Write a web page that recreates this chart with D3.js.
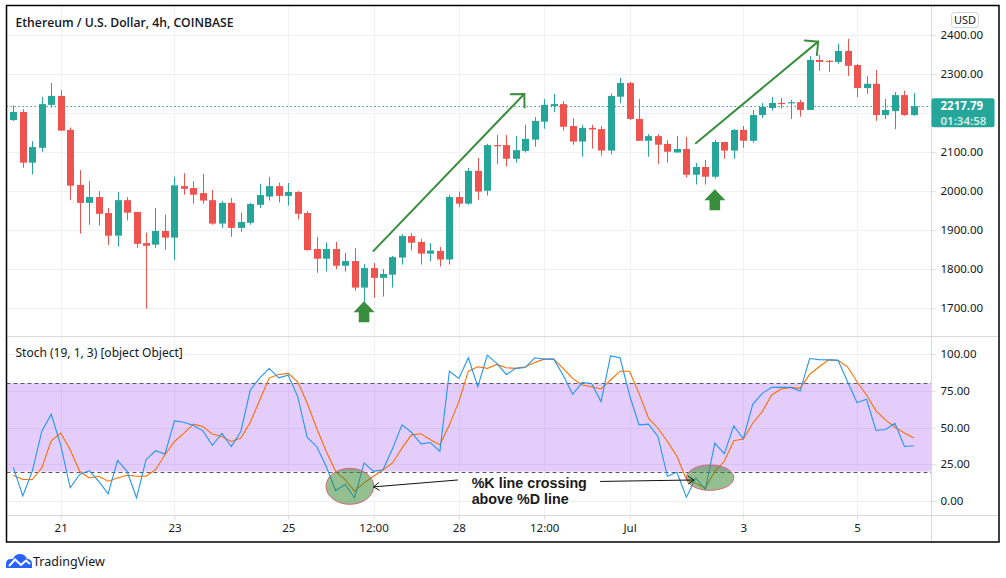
<!DOCTYPE html>
<html>
<head>
<meta charset="utf-8">
<script src="https://cdn.jsdelivr.net/npm/d3@7/dist/d3.min.js"></script>
<style>
    body { margin: 0; background: #ffffff; }
    svg { display: block; font-family: "Noto Sans", sans-serif; }
</style>
</head>
<body>
<script>
//Candles, one per 4h bar, first bar Jun 20 04:00
const opens  = [2182,2203,2073,2111,2221,2244,2157,2016,1970,1985,1944,1886,1977,1947,1867,1863,1898,1881,2013,2008,
                1995,1977,1917,1970,1906,1919,1965,1986,2013,1988,1998,1944,1852,1827,1852,1809,1821,1753,1803,1778,
                1786,1830,1885,1870,1840,1847,1825,1985,1968,2052,2001,2118,2118,2083,2103,2132,2178,2218,2223,2167,
                2127,2162,2159,2104,2242,2277,2185,2129,2141,2121,2099,2108,2042,2062,2037,2126,2104,2157,2129,2195,
                2213,2226,2225,2228,2208,2336,2334,2331,2359,2323,2264,2275,2195,2205,2246,2195];
const highs  = [2220,2210,2128,2241,2277,2259,2163,2054,2026,2000,1957,1998,1985,1947,1894,1957,1940,2037,2046,2026,
                2044,2003,1975,1983,1945,1970,2019,2036,2022,2021,2000,1949,1883,1869,1870,1842,1854,1813,1816,1801,
                1834,1890,1893,1878,1867,1857,1990,1999,2059,2085,2121,2144,2144,2141,2170,2190,2236,2249,2231,2187,
                2170,2170,2167,2250,2290,2280,2236,2146,2146,2131,2141,2139,2072,2080,2131,2126,2159,2167,2208,2226,
                2241,2239,2234,2234,2346,2349,2336,2378,2390,2326,2295,2310,2236,2254,2257,2251];
const lows   = [2180,2060,2043,2101,2214,2155,1978,1891,1914,1912,1862,1858,1925,1855,1699,1855,1850,1824,1991,1968,
                1968,1914,1906,1883,1896,1914,1957,1976,1971,1963,1928,1848,1791,1794,1800,1794,1745,1717,1727,1730,
                1753,1812,1848,1812,1821,1807,1812,1959,1965,1978,1989,2070,2063,2073,2099,2114,2160,2203,2155,2119,
                2088,2109,2091,2094,2225,2182,2129,2088,2070,2073,2099,2035,2017,2017,2032,2083,2083,2111,2124,2187,
                2206,2211,2185,2191,2208,2308,2305,2326,2295,2241,2249,2180,2185,2159,2193,2193];
const closes = [2203,2073,2113,2223,2244,2155,2014,1970,1985,1942,1886,1977,1945,1865,1860,1898,1881,2015,2006,1991,
                1976,1917,1970,1906,1921,1967,1990,2013,1988,1998,1942,1849,1827,1852,1809,1821,1753,1803,1778,1788,
                1831,1885,1868,1840,1848,1825,1985,1968,2052,1999,2118,2116,2083,2105,2134,2180,2221,2223,2165,2127,
                2162,2158,2104,2244,2277,2185,2129,2141,2119,2101,2108,2042,2062,2037,2126,2104,2157,2129,2195,2216,
                2226,2223,2228,2208,2336,2331,2331,2359,2321,2264,2275,2195,2208,2246,2195,2217.79];

//Stochastic (19, 1, 3)
const stochK = [22.9,3.5,20.2,47.3,59,38,9,18,20.7,13.5,4.9,27.7,20.2,2.2,28.1,34.2,32,54.5,53.6,51.4,
                47.7,37.8,45.9,37.1,47.3,75.5,83.8,90.2,83.8,85.6,71,43.2,37.1,23.6,7.1,11.2,2.2,25.9,20.2,21.3,
                35.6,51.8,46.8,38.9,39.8,33.8,88.3,83.4,97.4,77.7,99.2,93.6,86.1,90.2,90.8,97.4,96.5,96.5,85.6,72.6,
                80.5,80,67.6,98.7,97.4,72.1,51.8,52.3,43.9,16.8,19.5,2.6,15.7,7.8,39.4,32.2,51.1,42.3,65.8,73.2,
                77.3,77.3,77.3,74.8,96.9,96.2,96,95.8,81.1,66.9,69.2,48,48.6,52.9,37.1,37.6];
const stochD = [17.5,14.6,14.6,22.5,41,46.2,34.9,20.2,15.7,16.8,13.5,15.7,17.5,16.8,16.8,21.3,31.5,40.5,46.2,52.3,
                50.7,45.5,43.9,40.5,42.8,53.6,68.7,83.8,86.1,86.8,81.1,66.5,49.5,33.8,20.2,14.6,6.7,12.3,16.8,21.3,
                25.9,36,45,45.7,41.7,38.3,51.8,67.6,88.3,91.3,90.2,92.9,90.6,90.2,91.3,94.2,96.5,96.5,90.2,83.4,
                78.9,77.7,76.2,82.3,88.3,88.3,73.2,56.3,49.5,40.5,30.4,14.6,11.9,8.9,20.2,27,41,42.1,52.9,60.8,
                72.1,76.2,77.3,76.6,86.1,91.3,96,95.8,91.3,81.1,72.1,61.3,55.2,50.2,46.2,42.8];

//Axis ticks
const priceTicks = [1700, 1800, 1900, 2000, 2100, 2200, 2300, 2400];
const stochTicks = [0, 25, 50, 75, 100];
const timeTickBars = [5, 17, 29, 38, 47, 56, 65, 77, 89];
const timeTickLabels = ['21', '23', '25', '12:00', '28', '12:00', 'Jul', '3', '5'];

//Annotations (bar index, value)
const trendArrows = [[38, 1847, 53.9, 2249], [72, 2123, 84.9, 2383]];
const upArrows = [[37, 1718], [74, 2005]];
const ellipses = [[35.5, 10, 23.8, 18], [73.5, 15.9, 23.7, 12.7]];
const pointers = [[46.9, 14.3, 38, 9.6], [61.9, 13.3, 71.8, 14.3]];
const lastPrice = 2217.79;

//Setup chart
const width = 1006;
const height = 578;
const frame = {left: 6.5, top: 5.5, right: 999, bottom: 542};
const axisX = 931.5;
const paneSplit = 336.5;
const timeTop = 515.5;

const green = '#26a69a';
const red = '#ef5350';
const gridColor = '#eef0f4';
const lineColor = '#d6d9e0';
const textColor = '#131722';
const annoGreen = '#388e3c';

const svg = d3.select('body').append('svg')
    .attr('width', width)
    .attr('height', height);

//Scales
const x = d3.scaleLinear().domain([0, 95]).range([13.3, 913.9]);
const y = d3.scaleLinear().domain([1700, 2400]).range([308.3, 35]);
const ys = d3.scaleLinear().domain([0, 100]).range([501, 354]);

//Clip paths for the two panes
const defs = svg.append('defs');
defs.append('clipPath').attr('id', 'clipPrice')
    .append('rect')
    .attr('x', frame.left).attr('y', frame.top)
    .attr('width', axisX - frame.left).attr('height', paneSplit - frame.top);
defs.append('clipPath').attr('id', 'clipStoch')
    .append('rect')
    .attr('x', frame.left).attr('y', paneSplit)
    .attr('width', axisX - frame.left).attr('height', timeTop - paneSplit);

const pricePane = svg.append('g').attr('clip-path', 'url(#clipPrice)');
const stochPane = svg.append('g').attr('clip-path', 'url(#clipStoch)');

//Grid lines
pricePane.selectAll('line.hgrid')
    .data(priceTicks)
    .enter()
    .append('line')
    .attr('x1', frame.left).attr('x2', axisX)
    .attr('y1', d => Math.round(y(d)) + 0.5).attr('y2', d => Math.round(y(d)) + 0.5)
    .style('stroke', gridColor);

pricePane.selectAll('line.vgrid')
    .data(timeTickBars)
    .enter()
    .append('line')
    .attr('x1', d => Math.round(x(d)) + 0.5).attr('x2', d => Math.round(x(d)) + 0.5)
    .attr('y1', frame.top).attr('y2', paneSplit)
    .style('stroke', gridColor);

stochPane.selectAll('line.hgrid')
    .data(stochTicks)
    .enter()
    .append('line')
    .attr('x1', frame.left).attr('x2', axisX)
    .attr('y1', d => Math.round(ys(d)) + 0.5).attr('y2', d => Math.round(ys(d)) + 0.5)
    .style('stroke', gridColor);

stochPane.selectAll('line.vgrid')
    .data(timeTickBars)
    .enter()
    .append('line')
    .attr('x1', d => Math.round(x(d)) + 0.5).attr('x2', d => Math.round(x(d)) + 0.5)
    .attr('y1', paneSplit).attr('y2', timeTop)
    .style('stroke', gridColor);

//Stoch band between 20 and 80 (see-through so the grid shows faintly)
stochPane.append('rect')
    .attr('x', frame.left)
    .attr('width', axisX - frame.left)
    .attr('y', ys(80))
    .attr('height', ys(20) - ys(80))
    .style('fill', 'rgb(165,88,242)')
    .style('fill-opacity', 0.3);

stochPane.selectAll('line.band')
    .data([80, 20])
    .enter()
    .append('line')
    .attr('x1', frame.left).attr('x2', axisX)
    .attr('y1', d => Math.round(ys(d)) + 0.5).attr('y2', d => Math.round(ys(d)) + 0.5)
    .style('stroke', '#5d5666')
    .style('stroke-dasharray', '4,3');

//Last price dotted line
pricePane.append('line')
    .attr('x1', frame.left).attr('x2', axisX)
    .attr('y1', Math.round(y(lastPrice)) + 0.5).attr('y2', Math.round(y(lastPrice)) + 0.5)
    .style('stroke', green)
    .style('stroke-dasharray', '1.5,2.5');

//Candles
const candles = opens.map((o, i) => ({i: i, o: o, h: highs[i], l: lows[i], c: closes[i]}));
const colour = d => d.c >= d.o ? green : red;

pricePane.selectAll('line.wick')
    .data(candles)
    .enter()
    .append('line')
    .attr('class', 'wick')
    .attr('x1', d => Math.round(x(d.i)) + 0.5).attr('x2', d => Math.round(x(d.i)) + 0.5)
    .attr('y1', d => y(d.h)).attr('y2', d => y(d.l))
    .style('stroke', colour);

pricePane.selectAll('rect.body')
    .data(candles)
    .enter()
    .append('rect')
    .attr('class', 'body')
    .attr('x', d => Math.round(x(d.i)) - 3)
    .attr('width', 7)
    .attr('y', d => y(Math.max(d.o, d.c)))
    .attr('height', d => Math.max(1.2, Math.abs(y(d.o) - y(d.c))))
    .style('fill', colour);

//Trend arrows
const arrowGroup = pricePane.append('g')
    .style('stroke', annoGreen)
    .style('stroke-width', 2)
    .style('fill', 'none')
    .style('stroke-linecap', 'round');

trendArrows.forEach(a => {
    const x1 = x(a[0]), y1 = y(a[1]), x2 = x(a[2]), y2 = y(a[3]);
    const back = Math.atan2(y1 - y2, x1 - x2);
    const len = 13.5;
    arrowGroup.append('line')
        .attr('x1', x1).attr('y1', y1).attr('x2', x2).attr('y2', y2);
    arrowGroup.append('path')
        .attr('d', `M${x2 + len * Math.cos(back - Math.PI / 4)},${y2 + len * Math.sin(back - Math.PI / 4)}` +
                   `L${x2},${y2}` +
                   `L${x2 + len * Math.cos(back + Math.PI / 4)},${y2 + len * Math.sin(back + Math.PI / 4)}`);
});

//Block arrows pointing up
pricePane.selectAll('path.upArrow')
    .data(upArrows)
    .enter()
    .append('path')
    .attr('d', d => {
        const cx = x(d[0]), ty = y(d[1]);
        return `M${cx},${ty} L${cx + 10.5},${ty + 11} L${cx + 5.3},${ty + 11} L${cx + 5.3},${ty + 21}` +
               ` L${cx - 5.3},${ty + 21} L${cx - 5.3},${ty + 11} L${cx - 10.5},${ty + 11} Z`;
    })
    .style('fill', annoGreen);

//Stoch lines
const kLine = d3.line().x((d, i) => x(i)).y(d => ys(d));

stochPane.append('path')
    .datum(stochD)
    .attr('d', kLine)
    .style('fill', 'none')
    .style('stroke', '#ff6d00')
    .style('stroke-width', 1.1);

stochPane.append('path')
    .datum(stochK)
    .attr('d', kLine)
    .style('fill', 'none')
    .style('stroke', '#2196f3')
    .style('stroke-width', 1.1);

//Ellipses at the crossings
stochPane.selectAll('ellipse.cross')
    .data(ellipses)
    .enter()
    .append('ellipse')
    .attr('cx', d => x(d[0]))
    .attr('cy', d => ys(d[1]))
    .attr('rx', d => d[2])
    .attr('ry', d => d[3])
    .style('fill', 'rgba(60,140,55,0.55)')
    .style('stroke', '#d9607a')
    .style('stroke-width', 1);

//Pointer lines to the ellipses
const pointerGroup = stochPane.append('g')
    .style('stroke', '#111')
    .style('stroke-width', 1)
    .style('fill', 'none');

pointers.forEach(p => {
    const x1 = x(p[0]), y1 = ys(p[1]), x2 = x(p[2]), y2 = ys(p[3]);
    const back = Math.atan2(y1 - y2, x1 - x2);
    const len = 7;
    pointerGroup.append('line')
        .attr('x1', x1).attr('y1', y1).attr('x2', x2).attr('y2', y2);
    pointerGroup.append('path')
        .attr('d', `M${x2 + len * Math.cos(back - 0.6)},${y2 + len * Math.sin(back - 0.6)}` +
                   `L${x2},${y2}` +
                   `L${x2 + len * Math.cos(back + 0.6)},${y2 + len * Math.sin(back + 0.6)}`);
});

const note = stochPane.append('text')
    .attr('x', x(48.35))
    .attr('y', ys(9))
    .style('font-family', '"Liberation Sans", Arial, sans-serif')
    .style('font-size', '14.3px')
    .style('font-weight', 700)
    .style('fill', '#1a1a1a');
note.append('tspan').attr('x', x(48.35)).text('%K line crossing');
note.append('tspan').attr('x', x(48.35)).attr('dy', 16.5).text('above %D line');

//Pane separators and frame
svg.append('line')
    .attr('x1', frame.left).attr('x2', frame.right)
    .attr('y1', paneSplit).attr('y2', paneSplit)
    .style('stroke', lineColor);
svg.append('line')
    .attr('x1', frame.left).attr('x2', frame.right)
    .attr('y1', timeTop).attr('y2', timeTop)
    .style('stroke', lineColor);
svg.append('line')
    .attr('x1', axisX).attr('x2', axisX)
    .attr('y1', frame.top).attr('y2', frame.bottom)
    .style('stroke', lineColor);

//Price axis (the label that sits under the last price box is hidden)
const priceAxis = d3.axisRight(y)
    .tickValues(priceTicks.filter(d => Math.abs(y(d) - y(lastPrice)) > 16))
    .tickSize(4)
    .tickPadding(5)
    .tickFormat(d3.format('.2f'));

svg.append('g')
    .attr('class', 'axis')
    .attr('transform', `translate(${axisX}, 0)`)
    .call(priceAxis);

const stochAxis = d3.axisRight(ys)
    .tickValues(stochTicks)
    .tickSize(4)
    .tickPadding(5)
    .tickFormat(d3.format('.2f'));

svg.append('g')
    .attr('class', 'axis')
    .attr('transform', `translate(${axisX}, 0)`)
    .call(stochAxis);

const timeAxis = d3.axisBottom(x)
    .tickValues(timeTickBars)
    .tickSize(4)
    .tickPadding(4)
    .tickFormat((d, i) => timeTickLabels[i]);

svg.append('g')
    .attr('class', 'axis')
    .attr('transform', `translate(0, ${timeTop})`)
    .call(timeAxis);

svg.selectAll('.axis .domain').remove();
svg.selectAll('.axis line').style('stroke', lineColor);
svg.selectAll('.axis text')
    .style('font-family', '"Noto Sans", sans-serif')
    .style('font-size', '11.5px')
    .style('fill', textColor);

//Last price label
const py = y(lastPrice);
svg.append('rect')
    .attr('x', axisX).attr('y', py - 8)
    .attr('width', 63).attr('height', 29)
    .attr('rx', 2)
    .style('fill', green);
svg.append('text')
    .attr('x', 940.5).attr('y', py + 4)
    .style('font-size', '11.5px')
    .style('font-weight', 700)
    .style('fill', '#ffffff')
    .text(d3.format('.2f')(lastPrice));
svg.append('text')
    .attr('x', 940.5).attr('y', py + 18.5)
    .style('font-size', '11.5px')
    .style('font-weight', 600)
    .style('fill', '#d4eeeb')
    .text('01:34:58');

//USD badge
svg.append('rect')
    .attr('x', 951.5).attr('y', 12.5)
    .attr('width', 27).attr('height', 15)
    .attr('rx', 3)
    .style('fill', '#ffffff')
    .style('stroke', '#d1d4dc');
svg.append('text')
    .attr('x', 965).attr('y', 24)
    .style('text-anchor', 'middle')
    .style('font-size', '11px')
    .style('fill', textColor)
    .text('USD');

//Titles
svg.append('text')
    .attr('x', 15.5).attr('y', 27)
    .style('font-family', '"Open Sans", sans-serif')
    .style('font-size', '12.2px')
    .style('font-weight', 600)
    .style('fill', textColor)
    .text('Ethereum / U.S. Dollar, 4h, COINBASE');

svg.append('text')
    .attr('x', 15.5).attr('y', 356.5)
    .style('font-size', '12px')
    .style('fill', textColor)
    .text('Stoch (19, 1, 3) [object Object]');

//Outer frame
svg.append('rect')
    .attr('x', frame.left).attr('y', frame.top)
    .attr('width', frame.right - frame.left).attr('height', frame.bottom - frame.top)
    .style('fill', 'none')
    .style('stroke', '#000')
    .style('stroke-width', 1.5);

//TradingView logo
const logo = svg.append('g').attr('transform', 'translate(6, 553)');
logo.append('path')
    .attr('d', 'M0,15 L0,11 Q0,6 5,6 L7,6 Q9,1 14,1 Q19,1 21,6 Q26,6 26,11 L26,15 Z')
    .style('fill', '#2962ff');
logo.append('path')
    .attr('d', 'M3,13 L9,6.5 L15,12 L20,7.5 L24,11')
    .style('fill', 'none')
    .style('stroke', '#ffffff')
    .style('stroke-width', 2);
svg.append('text')
    .attr('x', 33).attr('y', 566)
    .style('font-size', '12.5px')
    .style('fill', textColor)
    .text('TradingView');
</script>
</body>
</html>
